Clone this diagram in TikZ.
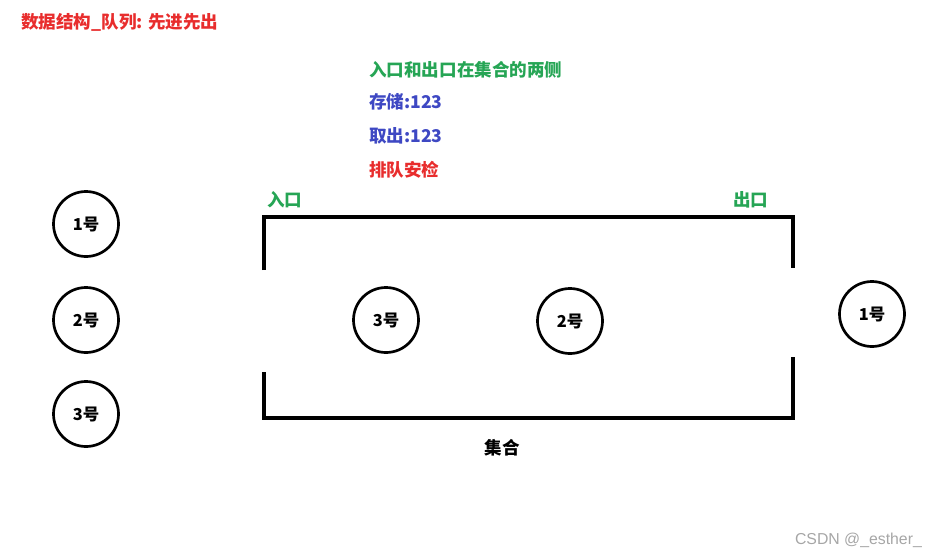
\documentclass[tikz,border=0pt]{standalone}
\usepackage{fontspec}
\setmainfont{Liberation Sans}
\newfontfamily\cjk{Noto Sans CJK SC}
\usetikzlibrary{positioning}
\definecolor{titlered}{RGB}{232,45,45}
\definecolor{notegreen}{RGB}{38,165,85}
\definecolor{noteblue}{RGB}{62,72,195}

\begin{document}
\begin{tikzpicture}[
  x=0.03cm, y=-0.03cm,
  person/.style={draw, circle, line width=2.3pt, minimum size=1.95cm,
                 inner sep=0pt, font=\cjk\bfseries\fontsize{14}{16}\selectfont},
  note/.style={anchor=west, inner sep=0pt,
               font=\cjk\bfseries\fontsize{15}{17}\selectfont},
  wall/.style={line width=3.2pt}
]
  \useasboundingbox (0,0) rectangle (929,555);

  % Labels
  \node[note, text=titlered] (title) at (21,22) {数据结构\_队列: 先进先出};
  \node[note, text=notegreen] (sides) at (369,70) {入口和出口在集合的两侧};
  \node[note, text=noteblue] (store) at (369,102) {存储:123};
  \node[note, text=noteblue] (fetch) at (369,136) {取出:123};
  \node[note, text=titlered] (check) at (369,170) {排队安检};

  % Set
  \coordinate (inA) at (264,270);
  \coordinate (inB) at (264,217);
  \coordinate (outB) at (793,217);
  \coordinate (outA) at (793,268);
  \coordinate (inC) at (264,372);
  \coordinate (inD) at (264,418);
  \coordinate (outD) at (793,418);
  \coordinate (outC) at (793,357);
  \draw[wall] (inA) -- (inB) -- (outB) -- (outA);
  \draw[wall] (inC) -- (inD) -- (outD) -- (outC);
  \node[note, text=notegreen] (entry) at (267,200) {入口};
  \node[note, text=notegreen] (exit) at (733,200) {出口};
  \node[note, anchor=center] (set) at (502,448) {集合};

  % Queue
  \node[person] (w1) at (86,224) {1号};
  \node[person] (w2) at (86,320) {2号};
  \node[person] (w3) at (86,414) {3号};
  \node[person] (q3) at (386,320) {3号};
  \node[person] (q2) at (570,321) {2号};
  \node[person] (d1) at (872,314) {1号};

  \node[anchor=east, text=black!35, font=\fontsize{13.5}{15}\selectfont]
    (mark) at (926,540) {CSDN @\_esther\_};
\end{tikzpicture}
\end{document}
